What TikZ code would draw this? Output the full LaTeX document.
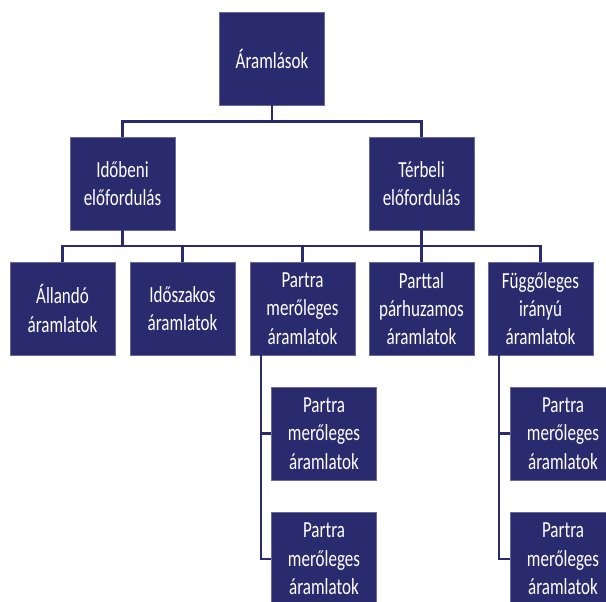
\documentclass[tikz,border=0pt]{standalone}
\usepackage{fontspec}
\setmainfont[FakeStretch=0.74]{Carlito}
\definecolor{navy}{RGB}{42,42,110}
\tikzset{
  box/.style={fill=navy, draw=navy!70!white, line width=0.6pt, text=white, minimum width=105pt, minimum height=93pt, align=center, inner sep=0pt, font=\fontsize{23}{28.3}\selectfont},
  conn/.style={draw=navy, line width=2.2pt}
}
\begin{document}
\begin{tikzpicture}[x=1pt,y=-1pt]
\clip (0,0) rectangle (606,602);
\fill[white] (0,0) rectangle (606,602);
\node[box] (top) at (272,58.5) {Áramlások};
\node[box] (l2a) at (122.5,183.5) {Időbeni\\előfordulás};
\node[box] (l2b) at (421.5,183.5) {Térbeli\\előfordulás};
\node[box] (l3a) at (62.5,308.5) {Állandó\\áramlatok};
\node[box] (l3b) at (182.5,308.5) {Időszakos\\áramlatok};
\node[box] (l3c) at (302.5,308.5) {Partra\\merőleges\\áramlatok};
\node[box] (l3d) at (421.5,308.5) {Parttal\\párhuzamos\\áramlatok};
\node[box] (l3e) at (540.5,308.5) {Függőleges\\irányú\\áramlatok};
\node[box] (l4a) at (324,433.5) {Partra\\merőleges\\áramlatok};
\node[box] (l4b) at (324,559) {Partra\\merőleges\\áramlatok};
\node[box] (l4c) at (563,433.5) {Partra\\merőleges\\áramlatok};
\node[box] (l4d) at (563,559) {Partra\\merőleges\\áramlatok};
\coordinate (b1) at (272,121.5);
\coordinate (b2) at (272,246);
\coordinate (v1) at ([xshift=-41.5pt]l3c.south);
\coordinate (v2) at ([xshift=-41.5pt]l3e.south);
\draw[conn] (top.south) -- (b1);
\draw[conn] (l2a.north) |- (b1) -| (l2b.north);
\draw[conn] (l2a.south) -- (l2a.south |- b2);
\draw[conn] (l2b.south) -- (l2b.south |- b2);
\draw[conn] (l3a.north) |- (b2) -| (l3e.north);
\draw[conn] (l3b.north) -- (l3b.north |- b2);
\draw[conn] (l3c.north) -- (l3c.north |- b2);
\draw[conn] (l3d.north) -- (l3d.north |- b2);
\draw[conn] (v1) |- (l4a.west);
\draw[conn] (v1) |- (l4b.west);
\draw[conn] (v2) |- (l4c.west);
\draw[conn] (v2) |- (l4d.west);
\end{tikzpicture}
\end{document}
